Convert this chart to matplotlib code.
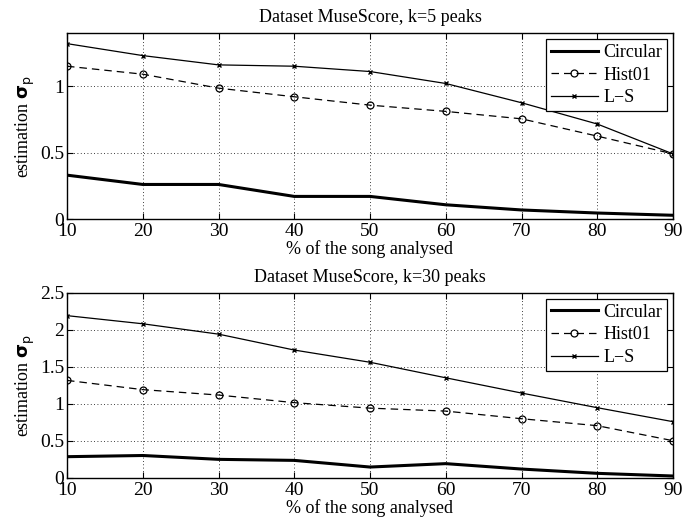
import matplotlib
matplotlib.use("Agg")
import matplotlib.pyplot as plt

pct = [10, 20, 30, 40, 50, 60, 70, 80, 90]

circ_k5 = [0.33, 0.26, 0.26, 0.17, 0.17, 0.107, 0.068, 0.045, 0.028]
hist_k5 = [1.15, 1.09, 0.985, 0.92, 0.857, 0.81, 0.754, 0.624, 0.49]
ls_k5 = [1.32, 1.23, 1.16, 1.15, 1.11, 1.02, 0.875, 0.715, 0.49]

circ_k30 = [0.284, 0.30, 0.248, 0.234, 0.144, 0.19, 0.117, 0.059, 0.023]
hist_k30 = [1.315, 1.19, 1.117, 1.014, 0.94, 0.90, 0.797, 0.703, 0.50]
ls_k30 = [2.19, 2.08, 1.94, 1.725, 1.56, 1.35, 1.144, 0.946, 0.757]

titles = ["Dataset MuseScore, k=5 peaks", "Dataset MuseScore, k=30 peaks"]
yticks_top = [0, 0.5, 1]
yticks_bot = [0, 0.5, 1, 1.5, 2, 2.5]

plt.rcParams['font.family'] = ['Liberation Serif', 'DejaVu Serif']
plt.rcParams['mathtext.fontset'] = 'dejavusans'

fig = plt.figure(figsize=(6.95, 5.17), dpi=100)
W, H = 695, 517
ax1 = fig.add_axes([67 / W, 1 - 219 / H, (673 - 67) / W, (219 - 33) / H])
ax2 = fig.add_axes([67 / W, 1 - 477.7 / H, (673 - 67) / W, (477.7 - 292.7) / H])

def fmt(v):
    return '%g' % v

for ax, c, h, l, t, yt, ylim in [
    (ax1, circ_k5, hist_k5, ls_k5, titles[0], yticks_top, 1.4),
    (ax2, circ_k30, hist_k30, ls_k30, titles[1], yticks_bot, 2.5),
]:
    ax.plot(pct, c, color='black', lw=2.2, label='Circular')
    ax.plot(pct, h, color='black', lw=0.9, ls=(0, (6, 4)), marker='o', ms=5,
            mfc='none', mew=0.9, label='Hist01')
    ax.plot(pct, l, color='black', lw=0.9, marker='x', ms=3.5, mew=1.0, label='L\u2212S')
    ax.set_xlim(10, 90)
    ax.set_ylim(0, ylim)
    ax.set_xticks(pct)
    ax.set_xticklabels([str(p) for p in pct])
    ax.set_yticks(yt)
    ax.set_yticklabels([fmt(v) for v in yt])
    ax.tick_params(direction='in', top=True, right=True, labelsize=14, length=4, width=0.8)
    ax.tick_params(axis='x', pad=3)
    ax.tick_params(axis='y', pad=2)
    ax.grid(True, color='black', ls=(0, (1, 3)), lw=0.6)
    for s in ax.spines.values():
        s.set_linewidth(1.0)
    ax.set_title(t, fontsize=13, pad=8)
    ax.set_xlabel('% of the song analysed', fontsize=13, labelpad=0)
    ax.set_ylabel(r'estimation $\mathbf{\sigma}_\mathrm{p}$', fontsize=13, labelpad=2)
    leg = ax.legend(loc='upper right', fontsize=13, frameon=True, fancybox=False,
                    edgecolor='black', framealpha=1, handlelength=2.6, handletextpad=0.3,
                    borderpad=0.25, labelspacing=0.32, borderaxespad=0.35)
    leg.get_frame().set_linewidth(0.9)

fig.savefig('out.png', dpi=100)
